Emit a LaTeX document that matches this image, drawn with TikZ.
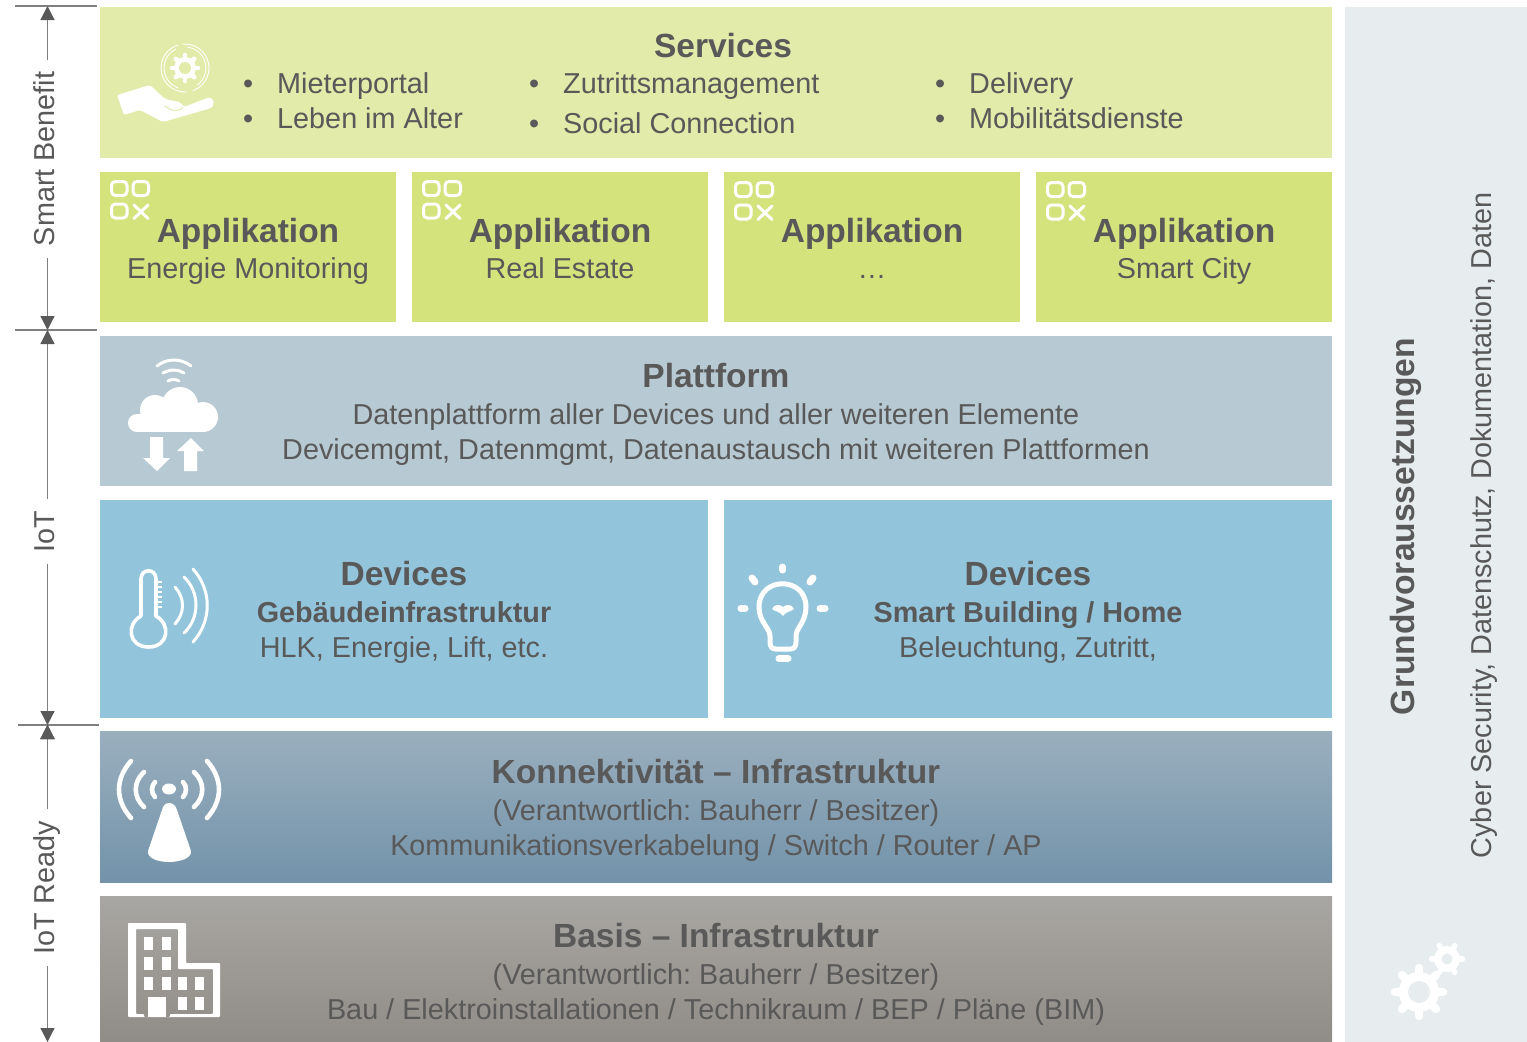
\documentclass[tikz,border=0pt]{standalone}
\usepackage{fontspec}
\setmainfont{Liberation Sans}
\usetikzlibrary{arrows.meta}
\frenchspacing

\definecolor{txtgray}{HTML}{595959}
\definecolor{linegray}{HTML}{7F7F7F}
\definecolor{svcgreen}{HTML}{E2EBA9}
\definecolor{appgreen}{HTML}{D5E37D}
\definecolor{pltgray}{HTML}{B7C9D3}
\definecolor{devblue}{HTML}{92C4DB}
\definecolor{sidegray}{HTML}{E7ECEE}
\definecolor{contop}{HTML}{9AAFBE}
\definecolor{conbot}{HTML}{7393AA}
\definecolor{bastop}{HTML}{A9A7A3}
\definecolor{basbot}{HTML}{8F8B87}

\newcommand{\gearwheel}[7]{%
	\begin{scope}[shift={(#1,#2)}]
		\fill[white] (0,0) circle (#3pt);
		\foreach \a in {1,...,#6}
			\draw[white,line width=#3*0.42pt,line cap=round] (\a*360/#6:#3) -- (\a*360/#6:#4);
		\fill[#7] (0,0) circle (#5pt);
	\end{scope}}
\newcommand{\boxhead}[2][0]{{\fontsize{33.5}{38}\selectfont\bfseries\rule{0pt}{#1pt}#2}}
\newcommand{\appsub}[1]{\vphantom{g}#1}

\tikzset{
	layer/.style={inner sep=0pt,outer sep=0pt,text=txtgray,align=center,font=\fontsize{28.8}{35}\selectfont},
	svcbox/.style={layer,fill=svcgreen,minimum width=1232pt,minimum height=151pt},
	appbox/.style={layer,fill=appgreen,minimum width=296pt,minimum height=150pt},
	pltbox/.style={layer,fill=pltgray,minimum width=1232pt,minimum height=150pt},
	devbox/.style={layer,fill=devblue,minimum width=608pt,minimum height=218pt},
	conbox/.style={layer,top color=contop,bottom color=conbot,minimum width=1232pt,minimum height=151pt},
	basbox/.style={layer,top color=bastop,bottom color=basbot,minimum width=1232pt,minimum height=152pt},
	sidebox/.style={fill=sidegray,inner sep=0pt,outer sep=0pt,minimum width=182pt,minimum height=1035pt},
	listtxt/.style={anchor=base west,inner sep=0pt,text=txtgray,font=\fontsize{28.8}{35}\selectfont},
	sidetxt/.style={rotate=90,inner sep=0pt,text=txtgray,font=\fontsize{28.8}{35}\selectfont},
	span/.style={rotate=90,fill=white,inner xsep=12pt,inner ysep=0pt,text height=21pt,text depth=8pt,text=txtgray,font=\fontsize{28.8}{35}\selectfont},
	tick/.style={draw=linegray,line width=1.2pt},
	icon/.style={draw=white,line width=3pt,line cap=round},
	pics/appicon/.style={code={
		\draw[icon,rounded corners=4pt] (1.5,1.5) rectangle (17,15.5);
		\draw[icon,rounded corners=4pt] (23,1.5) rectangle (38.5,15.5);
		\draw[icon,rounded corners=4pt] (1.5,24) rectangle (17,38);
		\draw[icon] (24,25) -- (38,38.5) (38,25) -- (24,38.5);
	}}
}

\begin{document}
\begin{tikzpicture}[x=1pt,y=-1pt,>={Triangle[length=14pt,width=14pt,color=txtgray]},node distance=312pt]
	\useasboundingbox (0,0) rectangle (1527,1042);

	% layers
	\node[svcbox]	(svc)	at (716,82.5)	{};
	\node[appbox]	(appa)	at (248,247)	{\boxhead[32]{Applikation}\\[1pt]\appsub{Energie Monitoring}};
	\node[appbox]	(appb)	[right of=appa]	{\boxhead[32]{Applikation}\\[1pt]\appsub{Real Estate}};
	\node[appbox]	(appc)	[right of=appb]	{\boxhead[32]{Applikation}\\[1pt]\appsub{\dots}};
	\node[appbox]	(appd)	[right of=appc]	{\boxhead[32]{Applikation}\\[1pt]\appsub{Smart City}};
	\node[pltbox]	(plt)	at (716,411)	{\boxhead[30]{Plattform}\\[2pt]Datenplattform aller Devices und aller weiteren Elemente\\Devicemgmt, Datenmgmt, Datenaustausch mit weiteren Plattformen};
	\node[devbox]	(devg)	at (404,609)	{\boxhead[30]{Devices}\\[2pt]\textbf{Gebäudeinfrastruktur}\\HLK, Energie, Lift, etc.};
	\node[devbox]	(devs)	at (1028,609)	{\boxhead[30]{Devices}\\[2pt]\textbf{Smart Building / Home}\\Beleuchtung, Zutritt,};
	\node[conbox]	(con)	at (716,806.5)	{\boxhead[32]{Konnektivität -- Infrastruktur}\\[2pt](Verantwortlich: Bauherr / Besitzer)\\Kommunikationsverkabelung / Switch / Router / AP};
	\node[basbox]	(bas)	at (716,972)	{\boxhead[28]{Basis -- Infrastruktur}\\[2pt](Verantwortlich: Bauherr / Besitzer)\\Bau / Elektroinstallationen / Technikraum / BEP / Pläne (BIM)};
	\node[sidebox]	(side)	at (1436,524.5)	{};

	% services text
	\node[layer]	(svct)	at (723,46)	{\boxhead{Services}};
	\node[listtxt]	(dota)	at (243,93)	{•};
	\node[listtxt]	(miet)	at (277,93)	{Mieterportal};
	\node[listtxt]	(dotb)	at (243,128)	{•};
	\node[listtxt]	(lebn)	at (277,128)	{Leben im Alter};
	\node[listtxt]	(dotc)	at (529,93)	{•};
	\node[listtxt]	(ztrt)	at (563,93)	{Zutrittsmanagement};
	\node[listtxt]	(dotd)	at (529,133)	{•};
	\node[listtxt]	(socl)	at (563,133)	{Social Connection};
	\node[listtxt]	(dote)	at (935,93)	{•};
	\node[listtxt]	(delv)	at (969,93)	{Delivery};
	\node[listtxt]	(dotf)	at (935,128)	{•};
	\node[listtxt]	(mobi)	at (969,128)	{Mobilitätsdienste};

	% side text
	\node[sidetxt]	(grnd)	at (1405.5,526.5)	{\fontsize{33.6}{35}\selectfont\bfseries Grundvoraussetzungen};
	\node[sidetxt]	(cybr)	at (1484.5,525.5)	{Cyber Security, Datenschutz, Dokumentation, Daten};

	% spans on the left
	\coordinate (ticka) at (15,6);
	\coordinate (tickb) at (97,6);
	\coordinate (tickc) at (15,330);
	\coordinate (tickd) at (97,330);
	\coordinate (ticke) at (18,725);
	\coordinate (tickf) at (99,725);
	\coordinate (sbtop) at (47.5,6);
	\coordinate (sbbot) at (47.5,330);
	\coordinate (ittop) at (47.5,330);
	\coordinate (itbot) at (47.5,725);
	\coordinate (irtop) at (47.5,725);
	\coordinate (irbot) at (47.5,1042);
	\path[tick]
	(ticka)	edge	(tickb)
	(tickc)	edge	(tickd)
	(ticke)	edge	(tickf)
	;
	\path[<->,draw=linegray,line width=1.2pt]
	(sbtop)	edge	node[span,pos=.472]	{Smart Benefit}	(sbbot)
	(ittop)	edge	node[span,pos=.51]	{IoT}		(itbot)
	(irtop)	edge	node[span,pos=.513]	{IoT Ready}	(irbot)
	;

	% icons
	\path (110,180) pic {appicon};
	\path (422,180) pic {appicon};
	\path (734,181) pic {appicon};
	\path (1046,181) pic {appicon};

	% hand with gear
	\fill[white,rounded corners=2pt] (117,95) -- (150,85) -- (165,99) -- (180,102) -- (184,107) -- (207,98) .. controls (214,97) and (216,106) .. (208,109) -- (163,122) -- (140,110) -- (124,115) -- cycle;
	\draw[svcgreen,line width=1pt] (165,106) .. controls (172,111) and (178,113) .. (183,107);
	\draw[white,line width=.9pt,dash pattern=on 40pt off 5pt on 70pt off 6pt] (185,68) circle (24pt);
	\draw[white,line width=.9pt,dash pattern=on 30pt off 12pt on 50pt off 20pt] (185,68) circle (21pt);
	\gearwheel{185}{68}{11}{13}{6}{8}{svcgreen}

	% cloud
	\fill[white] (137,423) circle (9pt) (155,410) circle (15pt) (180,405) circle (18pt) (203,417) circle (15pt);
	\fill[white] (137,414) rectangle (203,432);
	\draw[icon] (157,366) .. controls (167,358) and (181,358) .. (191,366);
	\draw[icon] (163,373) .. controls (170,369) and (178,369) .. (184,373);
	\draw[icon] (168,381) .. controls (171,379) and (176,379) .. (179,381);
	\fill[white] (150,437) -- (163,437) -- (163,458) -- (170,458) -- (157,471) -- (143,458) -- (150,458) -- cycle;
	\fill[white] (184,471) -- (197,471) -- (197,451) -- (204,451) -- (191,438) -- (177,451) -- (184,451) -- cycle;

	% thermometer
	\draw[icon,line width=3.6pt] (141,616) -- (141,579) .. controls (141,568) and (156,568) .. (156,579) -- (156,616) .. controls (171,624) and (169,647) .. (148.5,647) .. controls (128,647) and (126,624) .. (141,616);
	\foreach \t in {582,587,...,607}
		\draw[white,line width=1.2pt] (158,\t) -- (162,\t);
	\draw[icon] (175,587) .. controls (185,598) and (185,613) .. (175,624);
	\draw[icon] (184,577) .. controls (200,592) and (200,618) .. (184,633);
	\draw[icon] (193,569) .. controls (212,590) and (212,621) .. (193,642);

	% bulb
	\draw[icon,line width=5pt,line join=round] (770,636) .. controls (770,628) and (759,622) .. (759,607) .. controls (759,576) and (806,576) .. (806,607) .. controls (806,622) and (796,628) .. (796,636) -- (796,642) .. controls (796,647) and (794,649) .. (790,649) -- (776,649) .. controls (772,649) and (770,647) .. (770,642) -- cycle;
	\draw[white,line width=7pt,line cap=round] (782.7,567) -- (782.7,570);
	\draw[white,line width=7pt,line cap=round] (752,578) -- (755,582);
	\draw[white,line width=7pt,line cap=round] (813,578) -- (810,582);
	\draw[white,line width=7pt,line cap=round] (741,608.5) -- (745,608.5);
	\draw[white,line width=7pt,line cap=round] (820,608.5) -- (825,608.5);
	\draw[white,line width=7pt,line cap=round] (779,658.5) -- (788,658.5);
	\fill[white] (772,609) .. controls (774,604) and (780,604) .. (783,607) .. controls (786,604) and (792,604) .. (794,609) .. controls (791,612) and (786,611) .. (783,616) .. controls (780,611) and (775,612) .. (772,609) -- cycle;

	% antenna
	\fill[white] (169,803) .. controls (173,803) and (176,806) .. (177,810) -- (191,851) .. controls (192,859) and (178,862) .. (169,862) .. controls (160,862) and (147,859) .. (148,851) -- (162,810) .. controls (163,806) and (165,803) .. (169,803) -- cycle;
	\fill[white] (169,789) ellipse (7pt and 5.5pt);
	\draw[icon,line width=4.6pt] (131,761) .. controls (115,779) and (115,800) .. (131,818);
	\draw[icon,line width=4.6pt] (144,772) .. controls (133,782) and (133,797) .. (144,807);
	\draw[icon,line width=4.6pt] (155,782) .. controls (151,786) and (151,793) .. (155,797);
	\draw[icon,line width=4.6pt] (207,761) .. controls (223,779) and (223,800) .. (207,818);
	\draw[icon,line width=4.6pt] (194,772) .. controls (205,782) and (205,797) .. (194,807);
	\draw[icon,line width=4.6pt] (183,782) .. controls (187,786) and (187,793) .. (183,797);

	% building
	\fill[white,even odd rule,rounded corners=.8pt] (128,923) -- (186,923) -- (186,963) -- (220,963) -- (220,1017) -- (128,1017) -- cycle
		(136,929) -- (178,929) -- (178,969) -- (213,969) -- (213,1014) -- (170,1014) -- (170,1017) -- (144,1017) -- (144,1014) -- (136,1014) -- cycle;
	\fill[white] (148,997) rectangle (166,1017);
	\foreach \c in {144,162}
		\foreach \r in {937,957,977}
			\fill[white] (\c,\r) rectangle +(8.5,13);
	\foreach \c in {178,195}
		\foreach \r in {977,997}
			\fill[white] (\c,\r) rectangle +(8.5,13);

	% gears
	\gearwheel{1447}{959}{13}{15.5}{5.5}{6}{sidegray}
	\gearwheel{1419}{992}{20}{24}{11}{8}{sidegray}
\end{tikzpicture}
\end{document}
